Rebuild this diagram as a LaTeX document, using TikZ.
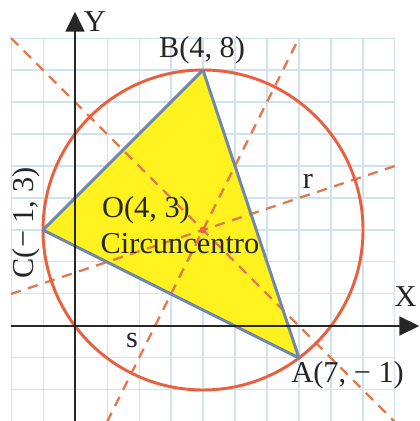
\documentclass[tikz,border=0pt]{standalone}
\usepackage{fontspec}
\setmainfont{Liberation Serif}
\usetikzlibrary{arrows.meta}
\definecolor{gridblue}{HTML}{CFE2F0}
\definecolor{triyellow}{HTML}{FFF21E}
\definecolor{triedge}{HTML}{7086AE}
\definecolor{circred}{HTML}{E8603E}
\definecolor{dashorange}{HTML}{E2794A}
\definecolor{dotred}{HTML}{EC6445}
\begin{document}
\begin{tikzpicture}[x=1cm,y=1cm,
  lbl/.style={font=\fontsize{27}{30}\selectfont, inner sep=0pt, text=black!85},
  gridline/.style={gridblue, line width=0.9pt},
  bisector/.style={dashorange, line width=2pt, dash pattern=on 0.32cm off 0.24cm},
  circum/.style={circred, line width=2.6pt},
  triedgestyle/.style={triedge, line width=2.6pt, line join=round},
  axis/.style={black!85, line width=2.6pt, -{Triangle[length=0.62cm, width=0.58cm]}}
]
\useasboundingbox (-2.344,-2.969) rectangle (10.75,10.1875);
\clip (-2.344,-2.969) rectangle (10.75,10.1875);
\fill[white] (-2.344,-2.969) rectangle (10.75,10.1875);
\draw[gridline] (-2,-3) grid (10,9);

\coordinate (A) at (7,-1);
\coordinate (B) at (4,8);
\coordinate (C) at (-1,3);
\coordinate (O) at (4,3);

\fill[triyellow] (A) -- (B) -- (C) -- cycle;

% perpendicular bisectors
\coordinate (m1s) at (-2,9);
\coordinate (m1e) at (10,-3);
\coordinate (m2s) at (-2,1);
\coordinate (m2e) at (10,5);
\coordinate (m3s) at (1,-3);
\coordinate (m3e) at (7,9);
\draw[bisector] (m1s) -- (m1e);
\draw[bisector] (m2s) -- (m2e);
\draw[bisector] (m3s) -- (m3e);

\draw[circum] (O) circle (5);
\draw[triedgestyle] (A) -- (B) -- (C) -- cycle;

% axes
\coordinate (xs) at (-2,0);
\coordinate (xe) at (10.76,0);
\coordinate (ys) at (0,-3.1);
\coordinate (ye) at (0,9.82);
\draw[axis] (xs) -- (xe);
\draw[axis] (ys) -- (ye);

\fill[dotred] (O) circle (0.11);

% labels
\node[lbl, anchor=base] (lY) at (0.62,9.2) {Y};
\node[lbl, anchor=base] (lX) at (10.33,0.62) {X};
\node[lbl, anchor=base] (lB) at (3.97,8.4) {B(4, 8)};
\node[lbl, anchor=base] (lA) at (8.52,-1.78) {A(7, − 1)};
\node[lbl, anchor=base, rotate=90] (lC) at (-1.31,3.22) {C(− 1, 3)};
\node[lbl, anchor=base] (lO) at (2.22,3.375) {O(4, 3)};
\node[lbl, anchor=base] (lCirc) at (3.28,2.28) {Circuncentro};
\node[lbl, anchor=base] (lr) at (7.28,4.31) {r};
\node[lbl, anchor=base] (ls) at (1.78,-0.66) {s};
\end{tikzpicture}
\end{document}
